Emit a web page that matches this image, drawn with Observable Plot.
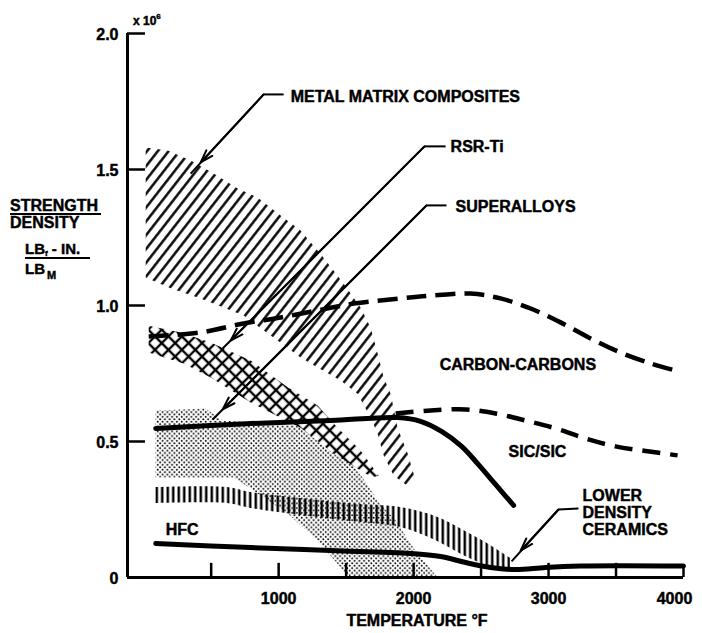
<!DOCTYPE html>
<html><head><meta charset="utf-8">
<script src="https://cdn.jsdelivr.net/npm/d3@7"></script>
<script src="https://cdn.jsdelivr.net/npm/@observablehq/plot@0.6"></script>
<style>
html,body{margin:0;padding:0;background:#fff;}
#chart svg{display:block;}
</style></head><body>
<svg width="0" height="0" style="position:absolute"><defs>
  <pattern id="hatch" width="8.5" height="12" patternUnits="userSpaceOnUse" patternTransform="rotate(38)">
    <rect x="3" y="0" width="2.4" height="12" fill="#000"/>
  </pattern>
  <pattern id="cross" width="9.5" height="9.5" patternUnits="userSpaceOnUse" patternTransform="rotate(45)">
    <rect width="9.5" height="9.5" fill="#fff"/>
    <path d="M0,4.75H9.5M4.75,0V9.5" stroke="#000" stroke-width="2.3"/>
  </pattern>
  <pattern id="dots" width="4.8" height="4.8" patternUnits="userSpaceOnUse">
    <circle cx="1.2" cy="1.2" r="0.95" fill="#000"/>
    <circle cx="3.6" cy="3.6" r="0.95" fill="#000"/>
  </pattern>
  <pattern id="vert" width="5.5" height="10" patternUnits="userSpaceOnUse">
    <rect x="1.5" y="0" width="2.5" height="10" fill="#000"/>
  </pattern>
</defs></svg>
<div id="chart"></div>
<script>
// ---- scales / ticks ----
const xDomain = [-120, 4000];
const yDomain = [0, 2.0];
const xTickMarks = [500, 1000, 1500, 2000, 2500, 3000, 3500];
const xTickLabels = [1000, 2000, 3000, 4000];
const yTickMarks = [0.5, 1.0, 1.5, 2.0];
const yTickLabels = [0, 0.5, 1.0, 1.5, 2.0];

// ---- data: [temperature °F, strength/density ×10^6] ----
const metalMatrixPoly = [[15,1.581],[178,1.570],[348,1.533],[519,1.485],[696,1.430],[844,1.397],[1015,1.331],[1163,1.276],[1333,1.176],[1481,1.081],[1607,0.993],[1681,0.919],[1733,0.824],[1778,0.735],[1830,0.676],[1881,0.551],[1956,0.456],[2015,0.357],
  [1941,0.342],[1852,0.375],[1778,0.449],[1733,0.529],[1681,0.588],[1585,0.676],[1459,0.724],[1289,0.772],[1163,0.809],[941,0.890],[741,0.963],[422,1.026],[200,1.063],[15,1.103]];
const rsrTiPoly = [[37,0.926],[274,0.901],[496,0.864],[793,0.798],[1067,0.699],[1289,0.632],[1437,0.551],[1607,0.467],[1741,0.375],
  [1696,0.368],[1607,0.393],[1407,0.456],[1163,0.551],[793,0.643],[496,0.735],[296,0.787],[37,0.827]];
const superalloysPoly = [[89,0.614],[459,0.621],[585,0.577],[1163,0.559],[1459,0.467],[1622,0.368],[1741,0.276],[1867,0.210],[2007,0.103],[2178,0],
  [1511,0],[1459,0.037],[1289,0.136],[1067,0.235],[667,0.368],[89,0.368]];
const ceramicsT = [89, 620, 793, 1163, 1607, 1904, 2163, 2385, 2570, 2719];
const ceramicsUpper = [0.331, 0.331, 0.3125, 0.29, 0.268, 0.257, 0.224, 0.169, 0.118, 0.07];
const ceramicsLower = [0.272, 0.272, 0.254, 0.228, 0.202, 0.184, 0.136, 0.077, 0.04, 0.033];
const sicSolid = [[89,0.548],[793,0.566],[1385,0.577],[1881,0.588],[2052,0.574],[2207,0.537],[2356,0.482],[2481,0.415],[2607,0.342],[2741,0.265]];
const hfc = [[89,0.125],[793,0.110],[1385,0.099],[1978,0.088],[2200,0.077],[2385,0.055],[2570,0.037],[2756,0.029],[2978,0.037],[3237,0.042],[4000,0.042]];
const carbonDashed = [[37,0.886],[422,0.901],[741,0.934],[1015,0.956],[1289,0.982],[1556,1.007],[1904,1.026],[2148,1.037],[2422,1.044],[2644,1.026],[2867,0.989],[3089,0.938],[3311,0.879],[3533,0.827],[3756,0.787],[3941,0.761]];
const sicDashed = [[1867,0.603],[2126,0.614],[2385,0.618],[2607,0.603],[2830,0.577],[3052,0.548],[3274,0.511],[3496,0.482],[3719,0.465],[3956,0.449]];

// ---- labels ----
const labelText = ["METAL MATRIX COMPOSITES","RSR-Ti","SUPERALLOYS","CARBON-CARBONS","SIC/SIC","HFC","LOWER","DENSITY","CERAMICS"];
const labelT    = [1089, 2274, 2311, 2193, 2704, 163, 3252, 3252, 3252];
const labelV    = [1.768, 1.585, 1.364, 0.783, 0.463, 0.176, 0.301, 0.239, 0.176];
// leaders: text end, elbow, arrowhead, tail
const leaderStart = [[1037,1.776],[2237,1.585],[2244,1.368],[3222,0.254]];
const leaderElbow = [[889,1.776],[2081,1.585],[2096,1.368],[3074,0.25]];
const leaderHead  = [[422,1.526],[644,0.871],[585,0.618],[2793,0.099]];
const leaderTail  = [[348,1.485],[585,0.842],[511,0.581],[2726,0.059]];

const labels = labelText.map((t,i)=>({t, x:labelT[i], y:labelV[i]}));
const ceramics = ceramicsT.map((t,i)=>({t, hi:ceramicsUpper[i], lo:ceramicsLower[i]}));
const leaders = leaderStart.map((s,i)=>({s, e:leaderElbow[i], h:leaderHead[i], t:leaderTail[i]}));
const X = d=>d[0], Y = d=>d[1];
const bold = {fontWeight:"bold", fontSize:16, fill:"#000", stroke:"#000", strokeWidth:0.45};

const chart = Plot.plot({
  width: 702, height: 633,
  marginLeft: 127, marginRight: 19, marginTop: 33, marginBottom: 56,
  x: {domain: xDomain, axis: null},
  y: {domain: yDomain, axis: null},
  style: {fontFamily: "'Liberation Sans', Arial, sans-serif", background: "#fff", color: "#000"},
  marks: [
    Plot.line(superalloysPoly, {x:X, y:Y, fill:"url(#dots)", stroke:"none", curve:"linear-closed"}),
    Plot.area(ceramics, {x1:"t", y1:"lo", y2:"hi", fill:"url(#vert)", curve:"catmull-rom"}),
    Plot.line(metalMatrixPoly, {x:X, y:Y, fill:"url(#hatch)", stroke:"none", curve:"linear-closed"}),
    Plot.line(rsrTiPoly, {x:X, y:Y, fill:"url(#cross)", stroke:"none", curve:"linear-closed"}),
    Plot.line(carbonDashed, {x:X, y:Y, strokeWidth:4.5, strokeDasharray:"20,9", strokeLinecap:"butt", curve:"catmull-rom"}),
    Plot.line(sicDashed, {x:X, y:Y, strokeWidth:4.5, strokeDasharray:"18,10", strokeLinecap:"butt", curve:"catmull-rom"}),
    Plot.line(sicSolid, {x:X, y:Y, strokeWidth:5, curve:"catmull-rom"}),
    Plot.line(hfc, {x:X, y:Y, strokeWidth:5, curve:"catmull-rom"}),
    // axes
    Plot.ruleY([0], {x1: xDomain[0], x2: 4000, strokeWidth: 3}),
    Plot.ruleX([xDomain[0]], {y1: 0, y2: 2.0, strokeWidth: 3}),
    Plot.ruleY(yTickMarks, {y: d=>d, x1: xDomain[0], x2: 13, strokeWidth: 2.5}),
    Plot.ruleX(xTickMarks, {x: d=>d, y1: 0, y2: 0.052, strokeWidth: 2.5}),
    Plot.ruleX([4000], {y1: 0, y2: 0.042, strokeWidth: 2.5}),
    Plot.text(xTickLabels.filter(d=>d<4000), {x:d=>d, y:0, dy:21, text:d=>String(d), ...bold}),
    Plot.text(xTickLabels.filter(d=>d===4000), {x:d=>d, y:0, dy:21, dx:-9, text:d=>String(d), ...bold}),
    Plot.text(yTickLabels, {x: xDomain[0], y:d=>d, dx:-9, dy:1, textAnchor:"end", text:d=>d===0?"0":d.toFixed(1), ...bold}),
    // labels
    Plot.text(labels, {x:"x", y:"y", text:"t", textAnchor:"start", ...bold}),
    // leaders
    Plot.link(leaders, {x1:d=>d.s[0], y1:d=>d.s[1], x2:d=>d.e[0], y2:d=>d.e[1], strokeWidth:2}),
    Plot.link(leaders, {x1:d=>d.e[0], y1:d=>d.e[1], x2:d=>d.t[0], y2:d=>d.t[1], strokeWidth:2}),
    Plot.arrow(leaders, {x1:d=>d.e[0], y1:d=>d.e[1], x2:d=>d.h[0], y2:d=>d.h[1], strokeWidth:2, headLength:10, headAngle:35})
  ]
});
document.getElementById("chart").appendChild(chart);

// axis titles
const svg = d3.select(chart);
const g = svg.append("g")
  .attr("font-family","'Liberation Sans', Arial, sans-serif")
  .attr("font-weight","bold").attr("fill","#000")
  .attr("stroke","#000").attr("stroke-width",0.45)
  .attr("text-anchor","start");
g.append("text").attr("x",10).attr("y",211).attr("font-size",16).text("STRENGTH");
g.append("line").attr("x1",10).attr("x2",101).attr("y1",214).attr("y2",214).attr("stroke-width",2);
g.append("text").attr("x",10).attr("y",228).attr("font-size",16).text("DENSITY");
const t1 = g.append("text").attr("x",25).attr("y",254).attr("font-size",15);
t1.append("tspan").text("LB");
t1.append("tspan").attr("font-size",8).attr("dy",2).text("f");
t1.append("tspan").attr("dy",-2).text(" - IN.");
g.append("line").attr("x1",25).attr("x2",90).attr("y1",258).attr("y2",258).attr("stroke-width",2);
const t2 = g.append("text").attr("x",25).attr("y",274).attr("font-size",15);
t2.append("tspan").text("LB");
t2.append("tspan").attr("font-size",11).attr("dy",5).attr("dx",2).text("M");
const t3 = g.append("text").attr("x",133).attr("y",25).attr("font-size",12);
t3.append("tspan").text("x 10");
t3.append("tspan").attr("font-size",8).attr("dy",-6).text("6");
g.append("text").attr("x",417).attr("y",626).attr("font-size",16).attr("text-anchor","middle").text("TEMPERATURE °F");
</script></body></html>
